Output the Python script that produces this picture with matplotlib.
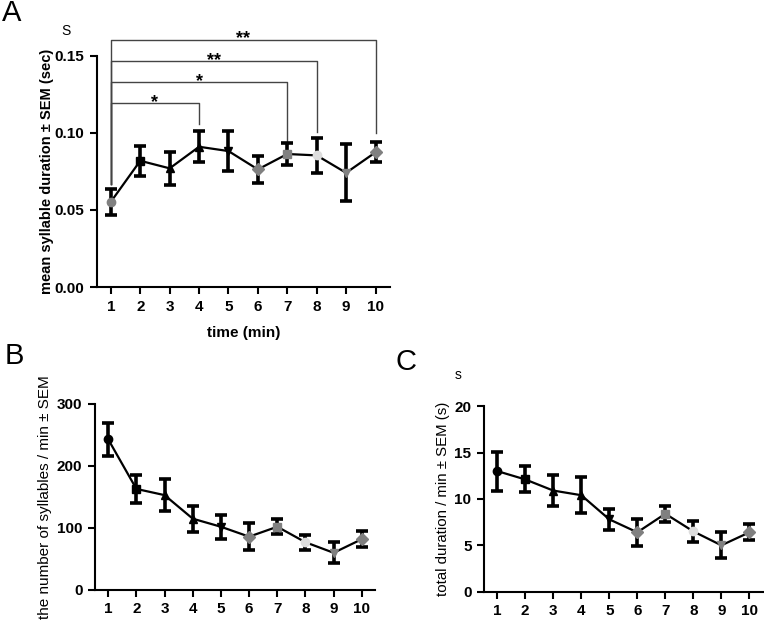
import matplotlib
matplotlib.use("Agg")
import matplotlib.pyplot as plt

plt.rcParams['font.family'] = ['Liberation Sans', 'DejaVu Sans']

minutes = [1, 2, 3, 4, 5, 6, 7, 8, 9, 10]

# A: mean syllable duration (sec)
dur_mean = [0.0553, 0.0819, 0.0770, 0.0910, 0.0882, 0.0763, 0.0863, 0.0854, 0.0741, 0.0874]
dur_sem = [0.0085, 0.0097, 0.0107, 0.0100, 0.0130, 0.0090, 0.0070, 0.0112, 0.0185, 0.0064]

# B: number of syllables / min
syl_mean = [243, 163, 153, 115, 102, 86, 102, 77, 60, 82]
syl_sem = [27, 23, 26, 21, 19, 22, 12, 12, 17, 13]

# C: total duration / min (s)
tot_mean = [13.0, 12.1, 10.9, 10.4, 7.8, 6.4, 8.4, 6.5, 5.0, 6.4]
tot_sem = [2.1, 1.4, 1.7, 1.95, 1.15, 1.45, 0.86, 1.1, 1.4, 0.88]

# significance brackets for A: (from, to, height, label)
brackets = [(1, 4, 0.1192, '*'), (1, 7, 0.1327, '*'),
            (1, 8, 0.1465, '**'), (1, 10, 0.1604, '**')]

# marker style per time point (GraphPad-like)
markers = ['o', 's', '^', '^', 'v', 'D', 's', 'o', 'v', 'D']
colors_a = ['grey', 'black', 'black', 'black', 'black', 'grey', 'grey', '#dddddd', 'grey', 'grey']
colors_bc = ['black', 'black', 'black', 'black', 'black', 'grey', 'grey', '#dddddd', 'grey', 'grey']


def draw_panel(ax, x, y, err, cols, ylim, yticks, yfmt, ylabel, label_bold, label_size, label_x):
    ax.plot(x, y, color='black', lw=1.6, zorder=2)
    ax.errorbar(x, y, yerr=err, fmt='none', ecolor='black', elinewidth=2.6,
                capsize=4.5, capthick=2.6, zorder=3)
    for xi, yi, m, c in zip(x, y, markers, cols):
        ax.plot(xi, yi, marker=m, color=c, markersize=6, ls='none', zorder=4)
    ax.set_xlim(0.53, 10.48)
    ax.set_ylim(*ylim)
    ax.set_xticks(x)
    ax.set_yticks(yticks)
    ax.set_yticklabels([yfmt.format(v) for v in yticks])
    ax.spines['top'].set_visible(False)
    ax.spines['right'].set_visible(False)
    ax.spines['left'].set_linewidth(1.5)
    ax.spines['bottom'].set_linewidth(1.5)
    ax.tick_params(direction='out', length=5, width=1.5, labelsize=11, pad=4)
    for t in ax.get_xticklabels() + ax.get_yticklabels():
        t.set_fontweight('bold')
    ax.set_ylabel(ylabel, fontsize=label_size,
                  fontweight='bold' if label_bold else 'normal')
    ax.yaxis.set_label_coords(label_x, 0.5)


fig = plt.figure(figsize=(7.64, 6.2), dpi=100)

axA = fig.add_axes([0.127, 0.537, 0.383, 0.373])
draw_panel(axA, minutes, dur_mean, dur_sem, colors_a, (0, 0.15),
           [0.0, 0.05, 0.10, 0.15], '{:.2f}', 'mean syllable duration ± SEM (sec)',
           True, 10.5, -0.147)
axA.set_xlabel('time (min)', fontsize=11, fontweight='bold', labelpad=9)
leg_bottom = {1: 0.067, 4: 0.1058, 7: 0.094, 8: 0.1008, 10: 0.0997}
for x0, x1, h, lab in brackets:
    axA.plot([x0, x0, x1, x1], [leg_bottom[x0], h, h, leg_bottom[x1]],
             color='#444444', lw=1.0, clip_on=False, zorder=1)
    axA.annotate(lab, ((x0 + x1) / 2, h), xytext=(0, -2.5), textcoords='offset points',
                 ha='center', va='baseline', fontsize=13, fontweight='bold',
                 annotation_clip=False)

axB = fig.add_axes([0.1243, 0.0484, 0.367, 0.300])
draw_panel(axB, minutes, syl_mean, syl_sem, colors_bc, (0, 300),
           [0, 100, 200, 300], '{:d}', 'the number of syllables / min ± SEM',
           False, 11, -0.154)

axC = fig.add_axes([0.6335, 0.0456, 0.365, 0.2994])
draw_panel(axC, minutes, tot_mean, tot_sem, colors_bc, (0, 20),
           [0, 5, 10, 15, 20], '{:d}', 'total duration / min ± SEM (s)',
           False, 10.8, -0.122)

# panel letters and small "S" marks
fig.text(0.002, 0.979, 'A', fontsize=21, va='center', ha='left')
fig.text(0.006, 0.426, 'B', fontsize=21, va='center', ha='left')
fig.text(0.518, 0.416, 'C', fontsize=21, va='center', ha='left')
fig.text(0.086, 0.950, 'S', fontsize=10, va='center', ha='center')
fig.text(0.600, 0.395, 's', fontsize=10, va='center', ha='center')

fig.savefig('out.png', dpi=100)
